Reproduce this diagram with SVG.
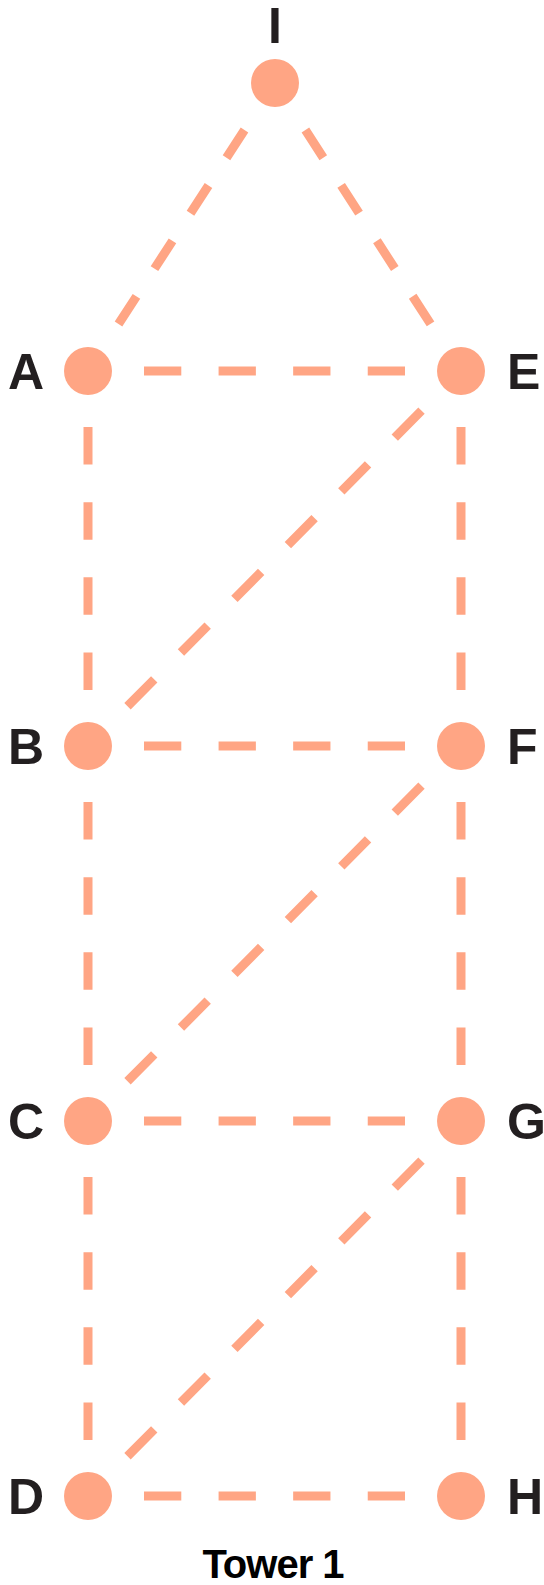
<svg xmlns="http://www.w3.org/2000/svg" width="544" height="1585" viewBox="0 0 544 1585">
<style>
.e{stroke:#ffa584;stroke-width:9;fill:none}
.n{fill:#ffa584}
.l{font-family:"Liberation Sans",Arial,sans-serif;font-weight:bold;font-size:50px;fill:#231f20}
.t{font-family:"Liberation Sans",Arial,sans-serif;font-weight:bold;font-size:40px;fill:#000;letter-spacing:-1px}
</style>
<rect width="544" height="1585" fill="#fff"/>
<g id="connectors">
<line class="e" x1="244.5" y1="130" x2="118.5" y2="324" stroke-dasharray="33.06"/>
<line class="e" x1="305.4" y1="130" x2="430.6" y2="324" stroke-dasharray="32.97"/>
<line class="e" x1="144" y1="371" x2="405" y2="371" stroke-dasharray="37.29"/>
<line class="e" x1="88" y1="427" x2="88" y2="690" stroke-dasharray="37.57"/>
<line class="e" x1="461" y1="427" x2="461" y2="690" stroke-dasharray="37.57"/>
<line class="e" x1="421.5" y1="410.7" x2="127.5" y2="706.3" stroke-dasharray="37.9"/>
<line class="e" x1="144" y1="746" x2="405" y2="746" stroke-dasharray="37.29"/>
<line class="e" x1="88" y1="802" x2="88" y2="1065" stroke-dasharray="37.57"/>
<line class="e" x1="461" y1="802" x2="461" y2="1065" stroke-dasharray="37.57"/>
<line class="e" x1="421.5" y1="785.7" x2="127.5" y2="1081.3" stroke-dasharray="37.9"/>
<line class="e" x1="144" y1="1121" x2="405" y2="1121" stroke-dasharray="37.29"/>
<line class="e" x1="88" y1="1177" x2="88" y2="1440" stroke-dasharray="37.57"/>
<line class="e" x1="461" y1="1177" x2="461" y2="1440" stroke-dasharray="37.57"/>
<line class="e" x1="421.5" y1="1160.7" x2="127.5" y2="1456.3" stroke-dasharray="37.9"/>
<line class="e" x1="144" y1="1496" x2="405" y2="1496" stroke-dasharray="37.29"/>
</g>
<g id="I"><circle class="n" cx="275" cy="83" r="24"/><text class="l" x="275" y="43" text-anchor="middle">I</text></g>
<g id="A"><circle class="n" cx="88" cy="371" r="24"/><text class="l" x="44" y="389" text-anchor="end">A</text></g>
<g id="E"><circle class="n" cx="461" cy="371" r="24"/><text class="l" x="507" y="389">E</text></g>
<g id="B"><circle class="n" cx="88" cy="746" r="24"/><text class="l" x="44" y="764" text-anchor="end">B</text></g>
<g id="F"><circle class="n" cx="461" cy="746" r="24"/><text class="l" x="507" y="764">F</text></g>
<g id="C"><circle class="n" cx="88" cy="1121" r="24"/><text class="l" x="44" y="1139" text-anchor="end">C</text></g>
<g id="G"><circle class="n" cx="461" cy="1121" r="24"/><text class="l" x="507" y="1139">G</text></g>
<g id="D"><circle class="n" cx="88" cy="1496" r="24"/><text class="l" x="44" y="1514" text-anchor="end">D</text></g>
<g id="H"><circle class="n" cx="461" cy="1496" r="24"/><text class="l" x="507" y="1514">H</text></g>
<text class="t" x="273" y="1578" text-anchor="middle">Tower 1</text>
</svg>
